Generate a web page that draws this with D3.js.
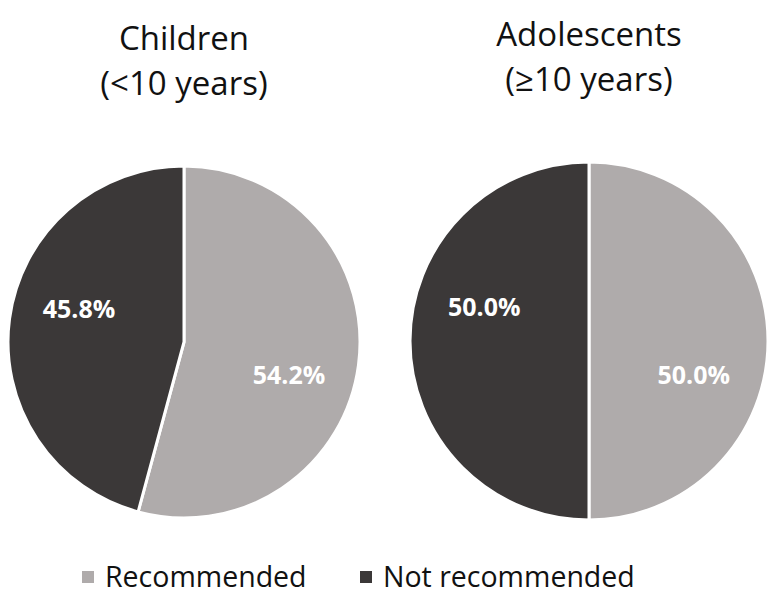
<!DOCTYPE html>
<html><head><meta charset="utf-8">
<script src="https://cdn.jsdelivr.net/npm/d3@7"></script>
<style>body{margin:0;background:#fff}svg{display:block}</style>
</head><body>
<script>
const categories = ["Recommended", "Not recommended"];
const groups = ["Children", "Adolescents"];
const groupSubtitles = ["(<10 years)", "(\u226510 years)"];
const childrenValues = [54.2, 45.8];
const adolescentValues = [50.0, 50.0];
const colors = ["#AFABAB", "#3B3838"];

const W = 773, H = 599;
const svg = d3.select("body").append("svg").attr("width", W).attr("height", H);
const font = "'Open Sans', sans-serif";

const pies = [
  {title: groups[0], sub: groupSubtitles[0], values: childrenValues, cx: 184, cy: 342, r: 176, ty: 50, sy: 95, rot: 0.17},
  {title: groups[1], sub: groupSubtitles[1], values: adolescentValues, cx: 589, cy: 341, r: 179, ty: 46, sy: 91, rot: 0.31}
];
const color = d3.scaleOrdinal().domain(categories).range(colors);
const pie = d3.pie().sort(null).value(d => d.v);

pies.forEach(p => {
  const g = svg.append("g").attr("transform", `translate(${p.cx},${p.cy})`);
  const data = pie(categories.map((c, i) => ({c, v: p.values[i]})));
  const arc = d3.arc().innerRadius(0).outerRadius(p.r);
  g.selectAll("path").data(data).join("path")
    .attr("d", arc).attr("fill", d => color(d.data.c))
    .attr("stroke", "#fff").attr("stroke-width", 3).attr("stroke-linejoin", "round");
  const lr = 110;
  g.selectAll("text").data(data).join("text")
    .attr("x", d => { const a = (d.startAngle + d.endAngle) / 2 + p.rot; return lr * Math.sin(a); })
    .attr("y", d => { const a = (d.startAngle + d.endAngle) / 2 + p.rot; return -lr * Math.cos(a); })
    .attr("dy", "0.36em").attr("text-anchor", "middle")
    .attr("font-family", font).attr("font-weight", "bold").attr("font-size", 25)
    .attr("fill", "#fff").text(d => d.data.v.toFixed(1) + "%");
  svg.append("text").attr("x", p.cx).attr("y", p.ty).attr("text-anchor", "middle")
    .attr("font-family", font).attr("font-size", 33).attr("fill", "#111").text(p.title);
  svg.append("text").attr("x", p.cx).attr("y", p.sy).attr("text-anchor", "middle")
    .attr("font-family", font).attr("font-size", 33).attr("fill", "#111").text(p.sub);
});

const legendX = [82, 360];
const lg = svg.append("g");
categories.forEach((c, i) => {
  lg.append("rect").attr("x", legendX[i]).attr("y", 571).attr("width", 12).attr("height", 12).attr("fill", color(c));
  lg.append("text").attr("x", legendX[i] + 23).attr("y", 587)
    .attr("font-family", font).attr("font-size", 28.5).attr("fill", "#111").text(c);
});
</script>
</body></html>
